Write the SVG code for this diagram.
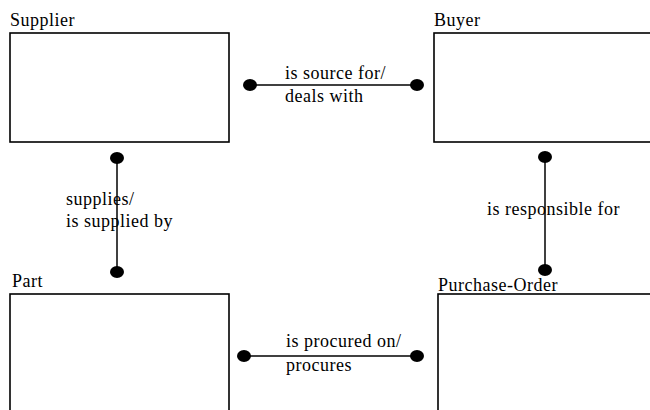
<svg xmlns="http://www.w3.org/2000/svg" width="650" height="410" viewBox="0 0 650 410">
<style>
.box{fill:#fff;stroke:#000;stroke-width:1.6}
.t{font-family:"Liberation Serif","Times New Roman",serif;font-size:18px;letter-spacing:0.5px;fill:#000}
.ln{stroke:#000;stroke-width:1.5;fill:none}
.dot{fill:#000}
</style>
<rect width="650" height="410" fill="#fff"/>
<g id="supplier">
<rect class="box" x="10" y="33" width="219" height="109"/>
<text class="t" x="10" y="26">Supplier</text>
</g>
<g id="buyer">
<rect class="box" x="434" y="33" width="230" height="109"/>
<text class="t" x="434" y="26">Buyer</text>
</g>
<g id="part">
<rect class="box" x="10" y="294" width="219" height="130"/>
<text class="t" x="12" y="287">Part</text>
</g>
<g id="purchase-order">
<rect class="box" x="438" y="294" width="230" height="130"/>
<text class="t" x="438" y="291">Purchase-Order</text>
</g>
<g id="connectors">
<line class="ln" x1="250" y1="85" x2="417" y2="85"/>
<ellipse class="dot" cx="250" cy="85" rx="7" ry="6"/>
<ellipse class="dot" cx="417" cy="85" rx="7" ry="6"/>
<text class="t" x="285" y="79">is source for/</text>
<text class="t" x="285" y="102">deals with</text>
<line class="ln" x1="117" y1="158" x2="117" y2="272"/>
<ellipse class="dot" cx="117" cy="158" rx="7" ry="6"/>
<ellipse class="dot" cx="117" cy="272" rx="7" ry="6"/>
<text class="t" x="66" y="205">supplies/</text>
<text class="t" x="66" y="227">is supplied by</text>
<line class="ln" x1="545" y1="157" x2="545" y2="270"/>
<ellipse class="dot" cx="545" cy="157" rx="7" ry="6"/>
<ellipse class="dot" cx="545" cy="270" rx="7" ry="6"/>
<text class="t" x="487" y="215">is responsible for</text>
<line class="ln" x1="244" y1="356" x2="417" y2="356"/>
<ellipse class="dot" cx="244" cy="356" rx="7" ry="6"/>
<ellipse class="dot" cx="417" cy="356" rx="7" ry="6"/>
<text class="t" x="286" y="347">is procured on/</text>
<text class="t" x="286" y="371">procures</text>
</g>
</svg>
